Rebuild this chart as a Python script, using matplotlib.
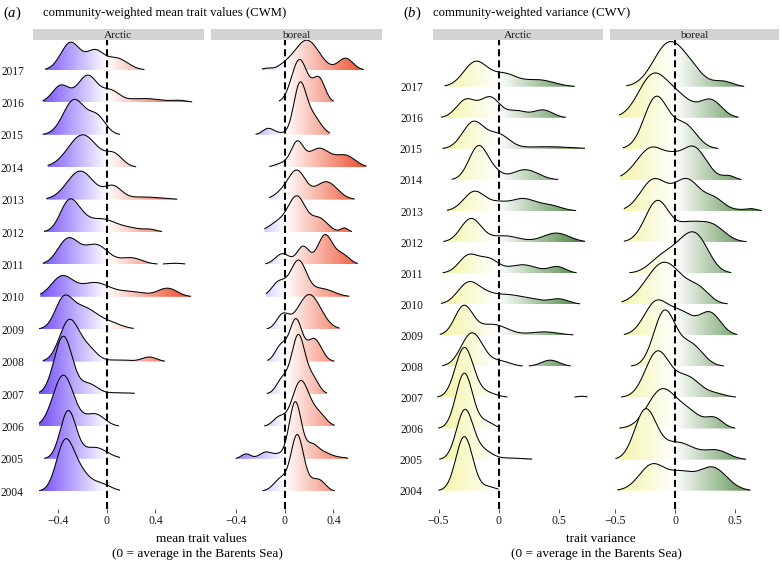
"""Ridgeline densities of community-weighted trait mean (CWM) and variance (CWV)."""
import matplotlib
matplotlib.use("Agg")
import matplotlib.pyplot as plt
import numpy as np
from matplotlib.colors import LinearSegmentedColormap, TwoSlopeNorm
from matplotlib.patches import Polygon

plt.rcParams["font.family"] = ["Liberation Serif", "DejaVu Serif"]
plt.rcParams["mathtext.fontset"] = "custom"
plt.rcParams["mathtext.it"] = "Liberation Serif:italic"
plt.rcParams["mathtext.rm"] = "Liberation Serif"

YEARS = [2017, 2016, 2015, 2014, 2013, 2012, 2011, 2010, 2009, 2008, 2007, 2006, 2005, 2004]

# each ridge: data range (xmin, xmax) and density modes (centre, spread, height in rows)
CWM_ARCTIC_RANGE = [(-0.51, 0.31), (-0.53, 0.71), (-0.53, 0.15), (-0.49, 0.245), (-0.50, 0.645),
                    (-0.52, 0.47), (-0.53, 0.645), (-0.55, 0.71), (-0.56, 0.22), (-0.53, 0.49),
                    (-0.56, 0.23), (-0.56, 0.10), (-0.545, 0.107), (-0.56, 0.107)]
CWM_ARCTIC_MODES = [
    [(-0.30, 0.08, 0.85), (-0.10, 0.07, 0.55), (0.08, 0.09, 0.36)],
    [(-0.38, 0.07, 0.52), (-0.16, 0.08, 0.83), (0.03, 0.07, 0.33), (0.30, 0.15, 0.12), (0.60, 0.06, 0.05)],
    [(-0.27, 0.09, 1.08), (-0.08, 0.07, 0.53)],
    [(-0.20, 0.12, 1.00), (0.06, 0.07, 0.36)],
    [(-0.22, 0.11, 0.88), (0.05, 0.07, 0.38), (0.30, 0.15, 0.08)],
    [(-0.31, 0.075, 0.95), (-0.20, 0.06, 0.15), (-0.05, 0.12, 0.40), (0.20, 0.10, 0.10), (0.36, 0.05, 0.06)],
    [(-0.32, 0.085, 0.78), (-0.09, 0.10, 0.60), (0.20, 0.09, 0.20), (0.56, 0.065, 0.035)],
    [(-0.37, 0.09, 0.62), (-0.10, 0.12, 0.43), (0.20, 0.12, 0.15), (0.50, 0.08, 0.26)],
    [(-0.36, 0.07, 0.80), (-0.20, 0.11, 0.65), (0.02, 0.10, 0.18)],
    [(-0.31, 0.08, 1.28), (-0.15, 0.07, 0.35), (0.10, 0.10, 0.05), (0.35, 0.06, 0.14)],
    [(-0.36, 0.075, 1.78), (-0.15, 0.07, 0.30), (0.10, 0.12, 0.04)],
    [(-0.36, 0.085, 1.58), (-0.10, 0.08, 0.38)],
    [(-0.32, 0.065, 1.46), (-0.10, 0.10, 0.35)],
    [(-0.35, 0.07, 1.41), (-0.23, 0.08, 0.58), (-0.05, 0.08, 0.22)],
]

CWM_BOREAL_RANGE = [(-0.19, 0.65), (-0.05, 0.40), (-0.245, 0.37), (-0.13, 0.67), (-0.13, 0.574),
                    (-0.17, 0.574), (-0.164, 0.60), (-0.156, 0.53), (-0.156, 0.45), (-0.145, 0.48),
                    (-0.15, 0.347), (-0.18, 0.41), (-0.41, 0.52), (-0.205, 0.41)]
CWM_BOREAL_MODES = [
    [(-0.15, 0.04, 0.05), (0.0, 0.06, 0.10), (0.18, 0.10, 0.92), (0.50, 0.06, 0.36)],
    [(0.12, 0.065, 1.32), (0.28, 0.05, 0.73)],
    [(-0.14, 0.045, 0.19), (-0.05, 0.05, 0.05), (0.12, 0.05, 1.40), (0.22, 0.07, 0.60)],
    [(-0.02, 0.06, 0.12), (0.10, 0.05, 0.72), (0.28, 0.09, 0.58), (0.50, 0.08, 0.35)],
    [(-0.02, 0.07, 0.20), (0.10, 0.07, 0.85), (0.34, 0.09, 0.55)],
    [(-0.05, 0.08, 0.30), (0.10, 0.07, 1.05), (0.28, 0.07, 0.42), (0.49, 0.03, 0.12)],
    [(-0.02, 0.06, 0.33), (0.15, 0.05, 0.55), (0.33, 0.06, 0.90), (0.47, 0.06, 0.30)],
    [(-0.05, 0.06, 0.45), (0.11, 0.065, 1.08), (0.30, 0.10, 0.25)],
    [(-0.02, 0.05, 0.42), (0.20, 0.095, 1.07)],
    [(-0.03, 0.05, 0.50), (0.09, 0.05, 1.27), (0.24, 0.06, 0.70)],
    [(-0.02, 0.05, 0.45), (0.11, 0.055, 1.80), (0.23, 0.05, 0.45)],
    [(-0.05, 0.05, 0.27), (0.13, 0.07, 1.40), (0.28, 0.06, 0.35)],
    [(-0.32, 0.04, 0.15), (-0.16, 0.05, 0.20), (-0.05, 0.05, 0.12), (0.085, 0.05, 1.75),
     (0.22, 0.05, 0.40), (0.32, 0.06, 0.18), (0.45, 0.06, 0.04)],
    [(-0.03, 0.06, 0.40), (0.10, 0.05, 1.65), (0.20, 0.06, 0.25), (0.29, 0.05, 0.27)],
]

CWV_ARCTIC_RANGE = [(-0.45, 0.65), (-0.48, 0.58), (-0.47, 0.72), (-0.39, 0.555), (-0.43, 0.75),
                    (-0.46, 0.72), (-0.47, 0.675), (-0.48, 0.75), (-0.49, 0.63), (-0.47, 0.61),
                    (-0.51, 0.74), (-0.51, 0.0), (-0.51, 0.28), (-0.51, 0.0)]
CWV_ARCTIC_MODES = [
    [(-0.19, 0.10, 0.80), (0.05, 0.10, 0.38), (0.33, 0.13, 0.22)],
    [(-0.27, 0.08, 0.58), (-0.07, 0.08, 0.65), (0.15, 0.08, 0.22), (0.37, 0.08, 0.25)],
    [(-0.21, 0.09, 0.86), (0.0, 0.09, 0.44), (0.40, 0.20, 0.07)],
    [(-0.165, 0.08, 1.10), (-0.02, 0.06, 0.15), (0.22, 0.11, 0.33)],
    [(-0.20, 0.09, 0.63), (0.0, 0.08, 0.22), (0.20, 0.10, 0.38), (0.42, 0.10, 0.18)],
    [(-0.23, 0.085, 0.75), (0.05, 0.12, 0.20), (0.48, 0.11, 0.29)],
    [(-0.25, 0.08, 0.56), (-0.08, 0.08, 0.42), (0.20, 0.12, 0.27), (0.49, 0.07, 0.20)],
    [(-0.25, 0.09, 0.68), (-0.10, 0.08, 0.15), (0.08, 0.14, 0.30), (0.30, 0.08, 0.08), (0.50, 0.08, 0.17)],
    [(-0.29, 0.075, 0.92), (-0.05, 0.12, 0.35), (0.38, 0.12, 0.11)],
    [(-0.22, 0.09, 1.08), (0.02, 0.08, 0.16), (0.43, 0.075, 0.20)],
    [(-0.285, 0.075, 1.60), (-0.10, 0.08, 0.15), (0.69, 0.04, 0.04)],
    [(-0.285, 0.07, 1.78), (-0.10, 0.06, 0.20)],
    [(-0.28, 0.07, 1.60), (-0.12, 0.07, 0.25), (0.10, 0.12, 0.05)],
    [(-0.285, 0.07, 1.74), (-0.08, 0.06, 0.12)],
]

CWV_BOREAL_RANGE = [(-0.41, 0.58), (-0.47, 0.53), (-0.44, 0.40), (-0.46, 0.61), (-0.43, 0.74),
                    (-0.43, 0.60), (-0.43, 0.47), (-0.45, 0.45), (-0.43, 0.52), (-0.41, 0.47),
                    (-0.47, 0.54), (-0.48, 0.52), (-0.50, 0.61), (-0.485, 0.63)]
CWV_BOREAL_MODES = [
    [(-0.05, 0.13, 1.40), (0.15, 0.10, 0.35), (0.40, 0.08, 0.17)],
    [(-0.19, 0.12, 1.31), (0.03, 0.12, 0.60), (0.30, 0.09, 0.55)],
    [(-0.16, 0.10, 1.65), (0.08, 0.10, 0.75)],
    [(-0.19, 0.13, 1.05), (-0.02, 0.06, 0.15), (0.15, 0.11, 1.05), (0.45, 0.05, 0.12)],
    [(-0.18, 0.11, 1.00), (0.10, 0.11, 1.00), (0.33, 0.08, 0.35), (0.55, 0.10, 0.04), (0.64, 0.04, 0.05)],
    [(-0.15, 0.10, 1.32), (0.10, 0.10, 0.50), (0.30, 0.11, 0.55)],
    [(-0.12, 0.10, 0.45), (0.05, 0.10, 0.65), (0.19, 0.10, 1.00)],
    [(-0.09, 0.15, 1.35), (0.20, 0.09, 0.40)],
    [(-0.16, 0.10, 1.05), (0.05, 0.10, 0.68), (0.29, 0.09, 0.72)],
    [(-0.09, 0.09, 1.75), (0.13, 0.10, 0.70)],
    [(-0.15, 0.10, 1.45), (0.10, 0.11, 0.65), (0.35, 0.08, 0.10)],
    [(-0.11, 0.12, 1.25), (0.12, 0.10, 0.45), (0.33, 0.07, 0.32)],
    [(-0.25, 0.09, 1.55), (0.02, 0.14, 0.55), (0.35, 0.10, 0.28)],
    [(-0.19, 0.11, 0.84), (0.05, 0.10, 0.50), (0.31, 0.12, 0.75)],
]

MIN_H = 0.014  # tails below this height are cut, as ggridges rel_min_height

W, H = 782, 561
fig = plt.figure(figsize=(W / 100, H / 100), dpi=100)

cwm_cmap = LinearSegmentedColormap.from_list("cwm", ["#6A40FA", "#FFFFFF", "#EE4220"])
cwv_cmap = LinearSegmentedColormap.from_list("cwv", ["#F3F39A", "#FFFFFF", "#3B7A2E"])
cwm_norm = TwoSlopeNorm(vmin=-0.6, vcenter=0, vmax=0.7)
cwv_norm = TwoSlopeNorm(vmin=-0.55, vcenter=0, vmax=0.75)

TICK_FS = 8.5
YEAR_FS = 8.3


def px_axes(x0, x1, y0, y1):
    return fig.add_axes([x0 / W, 1 - y1 / H, (x1 - x0) / W, (y1 - y0) / H])


def ridge(ax, base, rng, modes, cmap, norm, z):
    x = np.linspace(rng[0], rng[1], 500)
    h = np.zeros_like(x)
    for m, s, a in modes:
        h += a * np.exp(-0.5 * ((x - m) / s) ** 2)
    keep = h >= MIN_H
    hf = np.where(keep, h, 0.0)
    verts = np.column_stack([np.r_[x, x[::-1]], np.r_[base + hf, np.full_like(x, base)]])
    poly = Polygon(verts, closed=True, fc="none", ec="none", zorder=z)
    ax.add_patch(poly)
    grad = np.linspace(rng[0], rng[1], 256)[None, :]
    im = ax.imshow(grad, cmap=cmap, norm=norm, aspect="auto", origin="lower",
                   extent=(rng[0], rng[1], base, base + h.max()),
                   interpolation="bilinear", zorder=z)
    im.set_clip_path(poly)
    ax.plot(x, np.where(keep, base + h, np.nan), color="black", lw=0.75,
            zorder=z + 0.5, solid_capstyle="butt")


def facet(x0, x1, label, ranges, modes, cmap, norm, xlim, ylim, ticks, ticklabels, ylabels, ypad):
    ax = px_axes(x0, x1, 40, 509)
    for k, (year, rng, md) in enumerate(zip(YEARS, ranges, modes)):
        ridge(ax, year - 2004, rng, md, cmap, norm, z=2 + k)
    ax.axvline(0, color="black", lw=1.5, ls=(0, (3.4, 1.9)), zorder=100)
    ax.set_xlim(*xlim)
    ax.set_ylim(*ylim)
    for sp in ax.spines.values():
        sp.set_visible(False)
    ax.set_xticks(ticks)
    ax.set_xticklabels(ticklabels)
    ax.tick_params(axis="x", length=3, width=0.6, color="#333333", labelsize=TICK_FS,
                   pad=1.5, labelcolor="#1a1a1a")
    ax.set_yticks([y - 2004 for y in YEARS])
    if ylabels:
        ax.set_yticklabels([str(y) for y in YEARS])
    else:
        ax.set_yticklabels([])
    ax.tick_params(axis="y", length=0, labelsize=YEAR_FS, pad=ypad, labelcolor="#1a1a1a")
    ax.set_facecolor("none")

    st = px_axes(x0, x1, 29, 40)
    st.set_facecolor("#D3D3D3")
    st.set_xticks([])
    st.set_yticks([])
    for sp in st.spines.values():
        sp.set_visible(False)
    st.text(0.5, 0.42, label, ha="center", va="center", fontsize=8.2,
            color="#1a1a1a", transform=st.transAxes)
    return ax


A_XLIM = (-0.61, 0.80)
B_XLIM = (-0.546, 0.87)
A_YLIM = (-0.549, 13.926)
B_YLIM = (-0.589, 14.503)

facet(33, 204, "Arctic", CWM_ARCTIC_RANGE, CWM_ARCTIC_MODES, cwm_cmap, cwm_norm,
      A_XLIM, A_YLIM, [-0.4, 0, 0.4], ["\u22120.4", "0", "0.4"], True, 6.5)
facet(211, 382, "boreal", CWM_BOREAL_RANGE, CWM_BOREAL_MODES, cwm_cmap, cwm_norm,
      A_XLIM, A_YLIM, [-0.4, 0, 0.4], ["\u22120.4", "0", "0.4"], False, 6.5)
facet(433, 603, "Arctic", CWV_ARCTIC_RANGE, CWV_ARCTIC_MODES, cwv_cmap, cwv_norm,
      B_XLIM, B_YLIM, [-0.5, 0, 0.5], ["\u22120.5", "0", "0.5"], True, 7.2)
facet(610, 779, "boreal", CWV_BOREAL_RANGE, CWV_BOREAL_MODES, cwv_cmap, cwv_norm,
      B_XLIM, B_YLIM, [-0.5, 0, 0.5], ["\u22120.5", "0", "0.5"], False, 7.2)

fig.text(3 / W, 1 - 13 / H, r"($\mathit{a}$)", fontsize=10.5, va="center")
fig.text(43 / W, 1 - 13 / H, "community-weighted mean trait values (CWM)", fontsize=9.2, va="center")
fig.text(403 / W, 1 - 13 / H, r"($\mathit{b}$)", fontsize=10.5, va="center")
fig.text(433 / W, 1 - 13 / H, "community-weighted variance (CWV)", fontsize=9.2, va="center")

fig.text(201 / W, 1 - 539 / H, "mean trait values", ha="center", va="center", fontsize=9.5)
fig.text(197 / W, 1 - 554 / H, "(0 = average in the Barents Sea)", ha="center", va="center", fontsize=9.5)
fig.text(601 / W, 1 - 539 / H, "trait variance", ha="center", va="center", fontsize=9.5)
fig.text(596 / W, 1 - 554 / H, "(0 = average in the Barents Sea)", ha="center", va="center", fontsize=9.5)

fig.savefig("out.png", dpi=100)
